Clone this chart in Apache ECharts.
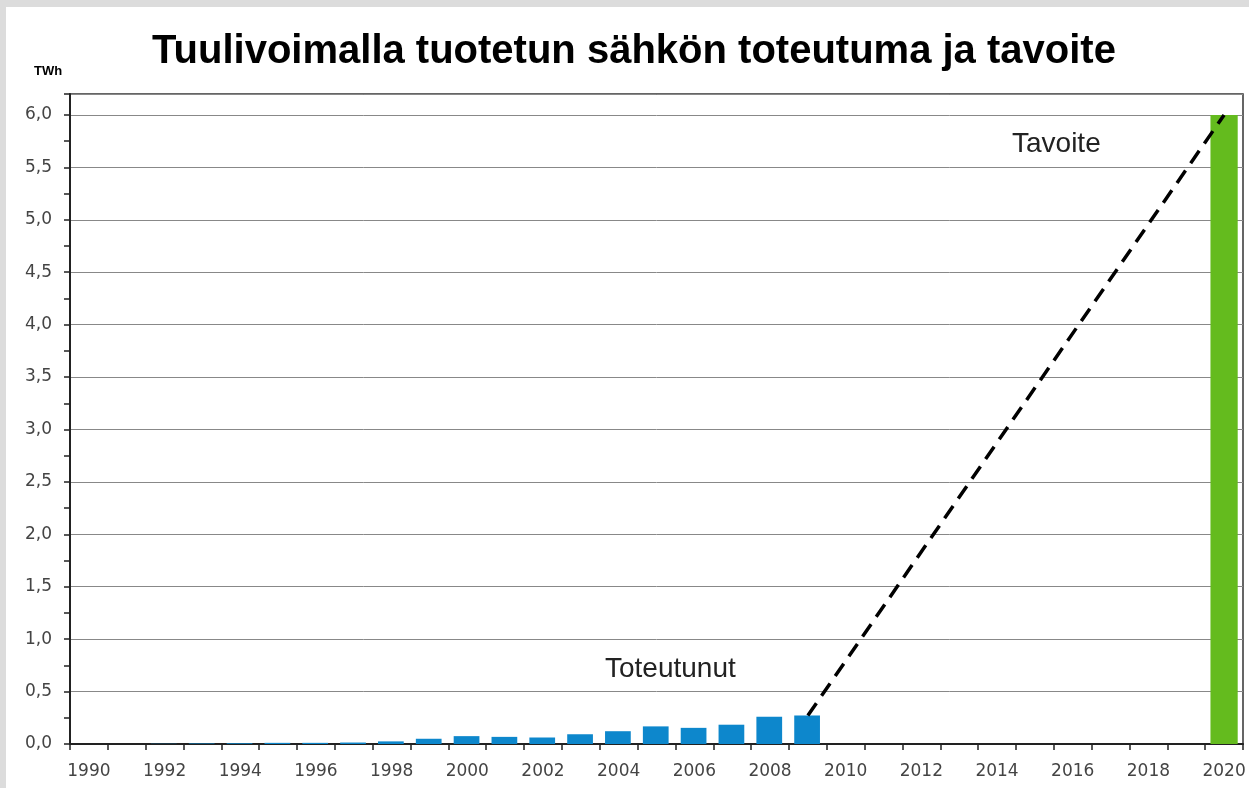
<!DOCTYPE html>
<html><head><meta charset="utf-8">
<script src="https://cdn.jsdelivr.net/npm/echarts@6/dist/echarts.min.js"></script>
<style>html,body{margin:0;padding:0;background:#dcdcdc;}#c{width:1249px;height:788px;}</style>
</head><body><div id="c"></div>
<script>
const years = [];
for (let y = 1990; y <= 2020; y++) years.push(String(y));
// Realised wind power production, TWh (1990–2009)
const actual = [0.0, 0.0, 0.002, 0.005, 0.007, 0.011, 0.011, 0.014, 0.025, 0.05, 0.075, 0.068, 0.062, 0.093, 0.122, 0.168, 0.154, 0.184, 0.26, 0.272,
  null, null, null, null, null, null, null, null, null, null, null];
// Target 2020, TWh
const target = [null, null, null, null, null, null, null, null, null, null, null, null, null, null, null, null, null, null, null, null,
  null, null, null, null, null, null, null, null, null, null, 6.0];
// Dashed projection from 2009 to 2020
const projection = [null, null, null, null, null, null, null, null, null, null, null, null, null, null, null, null, null, null, null, 0.272,
  null, null, null, null, null, null, null, null, null, null, 6.0];
const yLabels = ['0,0','0,5','1,0','1,5','2,0','2,5','3,0','3,5','4,0','4,5','5,0','5,5','6,0'];

const chart = echarts.init(document.getElementById('c'), null, {renderer: 'canvas'});
chart.setOption({
  backgroundColor: '#dcdcdc',
  animation: false,
  graphic: [
    {type: 'rect', left: 6, top: 7, shape: {width: 1243, height: 781}, style: {fill: '#ffffff'}, z: -10},
    {type: 'text', x: 634, y: 32, style: {text: 'Tuulivoimalla tuotetun sähkön toteutuma ja tavoite', align: 'center', verticalAlign: 'top', font: 'bold 40px "Liberation Sans", Arial, sans-serif', fill: '#000'}},
    {type: 'text', x: 34, y: 65, style: {text: 'TWh', verticalAlign: 'top', font: 'bold 13px "Liberation Sans", Arial, sans-serif', fill: '#000'}},
    {type: 'text', x: 605, y: 655, style: {text: 'Toteutunut', verticalAlign: 'top', font: '28px "Liberation Sans", Arial, sans-serif', fill: '#222'}},
    {type: 'text', x: 1012, y: 130, style: {text: 'Tavoite', verticalAlign: 'top', font: '28px "Liberation Sans", Arial, sans-serif', fill: '#222'}}
  ],
  grid: {left: 70, right: 6, top: 94, bottom: 44, show: true, borderColor: '#333', borderWidth: 1.5, backgroundColor: 'transparent'},
  xAxis: {
    type: 'category', data: years, boundaryGap: true,
    axisLine: {lineStyle: {color: '#222', width: 2}},
    axisTick: {show: true, interval: 0, length: 6, lineStyle: {color: '#222', width: 1.5}},
    axisLabel: {interval: 1, color: '#444', fontSize: 17, margin: 19, fontFamily: '"DejaVu Sans", Verdana, sans-serif'},
    splitLine: {show: false}
  },
  yAxis: {
    type: 'value', min: 0, max: 6.2, interval: 0.5,
    axisLine: {show: true, lineStyle: {color: '#222', width: 2}},
    axisTick: {show: true, length: 6, lineStyle: {color: '#222', width: 1.5}},
    minorTick: {show: true, splitNumber: 2, length: 6, lineStyle: {color: '#222', width: 1.5}},
    axisLabel: {color: '#444', fontSize: 17, margin: 18, showMaxLabel: false, fontFamily: '"DejaVu Sans", Verdana, sans-serif',
      formatter: function (v) { const i = Math.round(v / 0.5); return (Math.abs(v - i * 0.5) < 1e-6) ? yLabels[i] : ''; }},
    splitLine: {show: true, lineStyle: {color: '#888', width: 1}}
  },
  series: [
    {type: 'bar', data: actual, barWidth: '68%', barGap: '-100%', itemStyle: {color: '#0d87cc'}},
    {type: 'bar', data: target, barWidth: '72%', itemStyle: {color: '#64bb1e'}},
    {type: 'line', data: projection, connectNulls: true, symbol: 'none', z: 5,
      lineStyle: {color: '#000', width: 3.5, type: [15, 9]}}
  ]
});
</script></body></html>
